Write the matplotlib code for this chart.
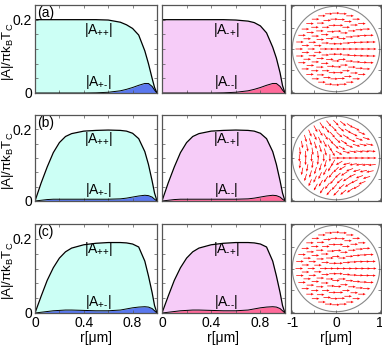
import numpy as np
import matplotlib
matplotlib.use("Agg")
import matplotlib.pyplot as plt
from matplotlib.patches import Circle

plt.rcParams['font.family'] = ['Liberation Sans', 'DejaVu Sans']
plt.rcParams['mathtext.fontset'] = 'custom'
plt.rcParams['mathtext.rm'] = 'Liberation Sans'
plt.rcParams['mathtext.it'] = 'Liberation Sans:italic'
plt.rcParams['mathtext.default'] = 'regular'

# ---------------- data ----------------
r_pts = [0, 0.05, 0.1, 0.15, 0.2, 0.25, 0.3, 0.4, 0.5, 0.6, 0.7, 0.75, 0.8, 0.85, 0.9, 0.93, 0.96, 0.98, 1.0]

# row (a)
a_App = [0.2, 0.2, 0.2, 0.2, 0.2, 0.2, 0.2, 0.2, 0.2, 0.199, 0.193, 0.186, 0.176, 0.158, 0.115, 0.08, 0.04, 0.015, 0]
a_Apm = [0, 0, 0, 0, 0, 0, 0, 0, 0.0005, 0.002, 0.006, 0.01, 0.015, 0.021, 0.026, 0.026, 0.018, 0.008, 0]
a_Amp = [0.2, 0.2, 0.2, 0.2, 0.2, 0.2, 0.2, 0.2, 0.2, 0.199, 0.196, 0.192, 0.183, 0.164, 0.125, 0.095, 0.055, 0.02, 0]
a_Amm = [0, 0, 0, 0, 0, 0, 0, 0, 0.0005, 0.002, 0.006, 0.01, 0.015, 0.021, 0.026, 0.026, 0.018, 0.008, 0]

# row (b)
b_App = [0, 0.05, 0.095, 0.135, 0.163, 0.18, 0.188, 0.195, 0.197, 0.198, 0.197, 0.195, 0.189, 0.174, 0.138, 0.102, 0.056, 0.022, 0]
b_Apm = [0, 0.002, 0.004, 0.005, 0.005, 0.005, 0.005, 0.005, 0.005, 0.005, 0.006, 0.008, 0.011, 0.014, 0.016, 0.015, 0.011, 0.005, 0]
b_Amp = [0, 0.05, 0.095, 0.135, 0.163, 0.18, 0.188, 0.195, 0.197, 0.198, 0.197, 0.195, 0.189, 0.174, 0.138, 0.102, 0.056, 0.022, 0]
b_Amm = [0, 0.002, 0.004, 0.005, 0.005, 0.005, 0.005, 0.005, 0.005, 0.005, 0.006, 0.008, 0.011, 0.014, 0.016, 0.015, 0.011, 0.005, 0]

# row (c)
c_App = [0, 0.045, 0.088, 0.122, 0.148, 0.165, 0.175, 0.184, 0.188, 0.19, 0.19, 0.189, 0.186, 0.178, 0.14, 0.1, 0.055, 0.02, 0]
c_Apm = [0, 0.002, 0.004, 0.006, 0.007, 0.008, 0.008, 0.007, 0.006, 0.006, 0.008, 0.011, 0.014, 0.016, 0.017, 0.016, 0.012, 0.006, 0]
c_Amp = [0, 0.045, 0.088, 0.122, 0.148, 0.165, 0.175, 0.184, 0.188, 0.19, 0.19, 0.189, 0.186, 0.178, 0.14, 0.1, 0.055, 0.02, 0]
c_Amm = [0, 0.002, 0.004, 0.006, 0.007, 0.008, 0.008, 0.007, 0.006, 0.006, 0.008, 0.011, 0.014, 0.016, 0.017, 0.016, 0.012, 0.006, 0]

rows = [
    ('(a)', a_App, a_Apm, a_Amp, a_Amm),
    ('(b)', b_App, b_Apm, b_Amp, b_Amm),
    ('(c)', c_App, c_Apm, c_Amp, c_Amm),
]

# d-vector texture: ring radii / arrows per ring, winding of in-plane angle
ring_radii = [0.0, 0.14, 0.28, 0.42, 0.56, 0.70, 0.84]
ring_counts = [1, 6, 12, 17, 22, 27, 32]
windings = [0.0, -0.5, 0.0]

x_ticks = [0, 0.2, 0.4, 0.6, 0.8, 1.0]
x_ticklabels = ['0', '', '0.4', '', '0.8', '']
y_ticks = [0, 0.04, 0.08, 0.12, 0.16, 0.2, 0.24]
y_ticklabels = ['0', '', '', '', '', '0.2', '']

c_cyan = '#ccfff5'
c_blue = '#5a78ee'
c_pink = '#f6ccf8'
c_hot = '#ff6a9a'
frame_col = '#555555'

# ---------------- figure ----------------
W, H = 382, 352
fig = plt.figure(figsize=(W / 100, H / 100), dpi=100)

col_x = [(35, 157), (162, 285), (291, 381)]
row_y = [(5, 93), (115, 201), (224, 313)]


def ax_at(c, r):
    x0, x1 = col_x[c]
    y0, y1 = row_y[r]
    return fig.add_axes([x0 / W, 1 - y1 / H, (x1 - x0) / W, (y1 - y0) / H])


fs = 10


def style(ax):
    for s in ax.spines.values():
        s.set_color(frame_col)
        s.set_linewidth(0.9)
    ax.tick_params(direction='in', top=True, right=True, length=2.5, width=0.5,
                   colors=frame_col, labelcolor='black', labelsize=fs, pad=2)


for ri, (tag, App, Apm, Amp, Amm) in enumerate(rows):
    last = ri == 2
    for ci, (big, small, fc_big, fc_small, lab_big, lab_small) in enumerate([
        (App, Apm, c_cyan, c_blue, r'|A$_{\text{++}}$|', r'|A$_{\text{+-}}$|'),
        (Amp, Amm, c_pink, c_hot, r'|A$_{\text{-+}}$|', r'|A$_{\text{--}}$|'),
    ]):
        ax = ax_at(ci, ri)
        ax.fill_between(r_pts, 0, big, color=fc_big, lw=0)
        ax.fill_between(r_pts, 0, small, color=fc_small, lw=0)
        ax.plot(r_pts, big, color='black', lw=0.9)
        ax.plot(r_pts, small, color='black', lw=0.7)
        ax.set_xlim(0, 1)
        ax.set_ylim(0, 0.24)
        ax.set_xticks(x_ticks)
        ax.set_yticks(y_ticks)
        style(ax)
        if last:
            ax.set_xticklabels(x_ticklabels)
            ax.set_xlabel('r[μm]', fontsize=fs, labelpad=1)
        else:
            ax.set_xticklabels([])
        if ci == 0:
            ax.set_yticklabels(y_ticklabels)
            ax.set_ylabel('|A|/πk$_B$T$_C$', fontsize=9.5)
            ax.yaxis.set_label_coords(-0.155, 0.47)
            ax.text(0.02, 0.99, tag, transform=ax.transAxes, ha='left', va='top', fontsize=fs)
        else:
            ax.set_yticklabels([])
        ax.text(0.52, 0.172, lab_big, ha='center', va='center', fontsize=fs)
        ax.text(0.52, 0.03, lab_small, ha='center', va='center', fontsize=fs)

    # texture panel
    ax = ax_at(2, ri)
    xs, ys, us, vs = [], [], [], []
    for rr, nn in zip(ring_radii, ring_counts):
        for k in range(nn):
            phi = 2 * np.pi * k / nn
            xs.append(rr * np.cos(phi))
            ys.append(rr * np.sin(phi))
            ang = windings[ri] * phi
            us.append(np.cos(ang))
            vs.append(np.sin(ang))
    ax.quiver(xs, ys, us, vs, color='red', pivot='mid', scale=12, width=0.008,
              headwidth=3.5, headlength=4, headaxislength=3.5)
    ax.add_patch(Circle((0, 0), 1, fill=False, ec='#888888', lw=0.8))
    ax.set_xlim(-1.03, 1.03)
    ax.set_ylim(-1.03, 1.03)
    ax.set_xticks([-1, -0.5, 0, 0.5, 1])
    ax.set_yticks([-1, -0.5, 0, 0.5, 1])
    style(ax)
    ax.set_yticklabels([])
    if last:
        ax.set_xticklabels(['-1', '', '0', '', '1'])
        ax.set_xlabel('r[μm]', fontsize=fs, labelpad=1)
    else:
        ax.set_xticklabels([])

fig.savefig('out.png', dpi=100)
